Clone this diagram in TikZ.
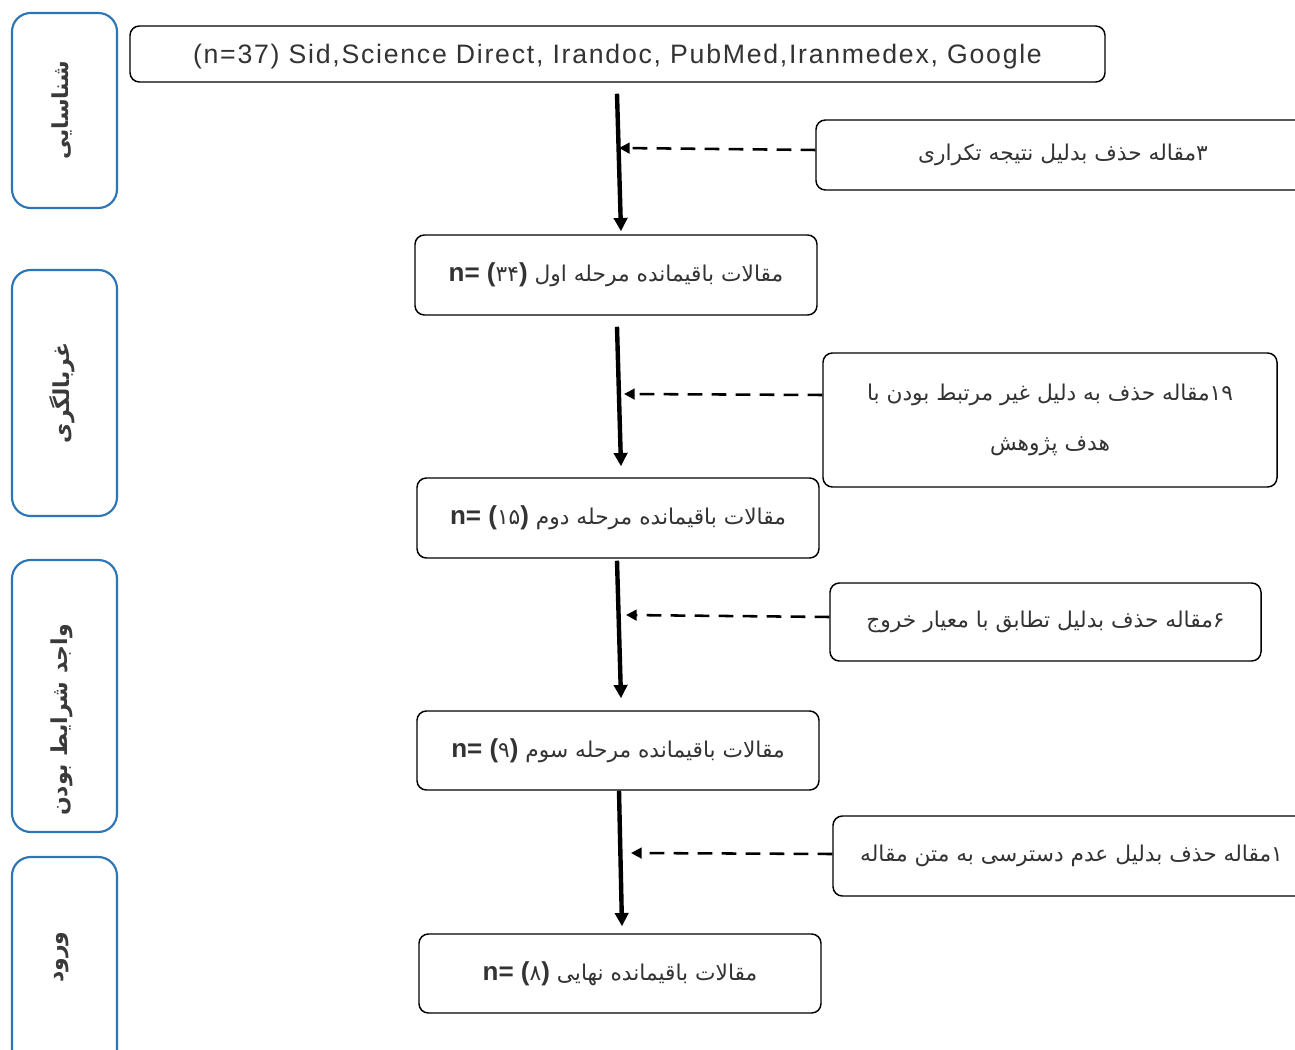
\documentclass[tikz,border=0pt]{standalone}
\usepackage{fontspec}
\setmainfont{Liberation Sans}
\newfontfamily\fa[Script=Arabic]{DejaVu Sans}
\TeXXeTstate=1
\usetikzlibrary{arrows.meta}
\definecolor{frameblue}{HTML}{2E75B6}
\definecolor{txtgray}{HTML}{333333}
\definecolor{labgray}{HTML}{3A3A3A}
\tikzset{
  box/.style={draw=black, line width=1.1pt, rounded corners=7pt, inner sep=0pt, text=txtgray, font=\fa\fontsize{16.3}{18}\selectfont},
  side/.style={draw=frameblue, line width=1.6pt, rounded corners=14pt, inner sep=0pt, minimum width=78.75pt},
  sidelabel/.style={rotate=90, inner sep=0pt, text=labgray, font=\fa\bfseries\fontsize{16.5}{18}\selectfont},
  mainarrow/.style={-{Triangle[length=10pt,width=10pt]}, line width=3.3pt},
  dasharrow/.style={-{Triangle[length=8pt,width=8pt]}, line width=1.9pt, dash pattern=on 11pt off 7pt},
}
\newcommand{\nlat}[1]{{\fontspec{Liberation Sans}\fontsize{19.5}{20}\selectfont\bfseries #1}}
\begin{document}
\begin{tikzpicture}[x=0.75pt,y=-0.75pt]
\clip (0,0) rectangle (1295,1049);
\fill[white] (0,0) rectangle (1295,1049);
% side boxes
\node[side, minimum height=146.25pt] (s1) at (64.5,110.5) {};
\node[side, minimum height=184.5pt] (s2) at (64.5,393) {};
\node[side, minimum height=204pt] (s3) at (64.5,696) {};
\node[side, minimum height=167.25pt] (s4) at (64.5,968.5) {};
\node[sidelabel] (s1t) at (62,110) {\beginR شناسایی\endR};
\node[sidelabel] (s2t) at (62,393) {\beginR غربالگری\endR};
\node[sidelabel] (s3t) at (62,720) {\beginR واجد شرایط بودن\endR};
\node[sidelabel] (s4t) at (62,957) {\beginR ورود\endR};
% top box
\node[box, minimum width=731.25pt, minimum height=42pt, text height=14pt, text depth=0pt, font=\fontsize{20}{22}\selectfont\addfontfeature{LetterSpace=6.5}, text=txtgray] (top) at (617.5,54) {(n=37) Sid,Science Direct, Irandoc, PubMed,Iranmedex, Google};
% main boxes
\node[box, minimum width=301.5pt, minimum height=60pt, text depth=4pt] (b1) at (616,275) {\nlat{n= (}۳۴\nlat{)}\ \beginR مقالات باقیمانده مرحله اول\endR};
\node[box, minimum width=301.5pt, minimum height=60pt, text depth=4pt] (b2) at (618,518) {\nlat{n= (}۱۵\nlat{)}\ \beginR مقالات باقیمانده مرحله دوم\endR};
\node[box, minimum width=301.5pt, minimum height=59.25pt, text depth=4pt] (b3) at (618,750.5) {\nlat{n= (}۹\nlat{)}\ \beginR مقالات باقیمانده مرحله سوم\endR};
\node[box, minimum width=301.5pt, minimum height=59.25pt, text depth=4pt] (b4) at (620,973.5) {\nlat{n= (}۸\nlat{)}\ \beginR مقالات باقیمانده نهایی\endR};
% right boxes
\node[box, minimum width=370.5pt, minimum height=52.5pt] (r1) at (1063,155) {\beginR ۳مقاله حذف بدلیل نتیجه تکراری\endR};
\node[box, minimum width=340.5pt, minimum height=100.5pt, align=center, font=\fa\fontsize{16.3}{37.5}\selectfont] (r2) at (1050,420) {\beginR ۱۹مقاله حذف به دلیل غیر مرتبط بودن با\endR\\\beginR هدف پژوهش\endR};
\node[box, minimum width=323.25pt, minimum height=58.5pt] (r3) at (1045.5,622) {\beginR ۶مقاله حذف بدلیل تطابق با معیار خروج\endR};
\node[box, minimum width=357.75pt, minimum height=60pt] (r4) at (1071.5,856) {\beginR ۱مقاله حذف بدلیل عدم دسترسی به متن مقاله\endR};
% main arrows
\path (top.south) ++(-0.5,11) coordinate (a1s);
\path (b1.north) ++(5,-3) coordinate (a1e);
\path (b1.south) ++(1,11) coordinate (a2s);
\path (b2.north) ++(3,-11) coordinate (a2e);
\path (b2.south) ++(-1,2) coordinate (a3s);
\path (b3.north) ++(3,-12) coordinate (a3e);
\path (b3.south) ++(1,0) coordinate (a4s);
\path (b4.north) ++(2,-7) coordinate (a4e);
\draw[mainarrow] (a1s) -- (a1e);
\draw[mainarrow] (a2s) -- (a2e);
\draw[mainarrow] (a3s) -- (a3e);
\draw[mainarrow] (a4s) -- (a4e);
% dashed arrows
\coordinate (d1e) at (619,148);
\coordinate (d2e) at (624,394);
\coordinate (d3e) at (626,615);
\coordinate (d4e) at (631,853);
\draw[dasharrow] ([yshift=3.75pt]r1.west) -- (d1e);
\draw[dasharrow] ([yshift=18.75pt]r2.west) -- (d2e);
\draw[dasharrow] ([yshift=3.75pt]r3.west) -- (d3e);
\draw[dasharrow] ([yshift=1.5pt]r4.west) -- (d4e);
\end{tikzpicture}
\end{document}
